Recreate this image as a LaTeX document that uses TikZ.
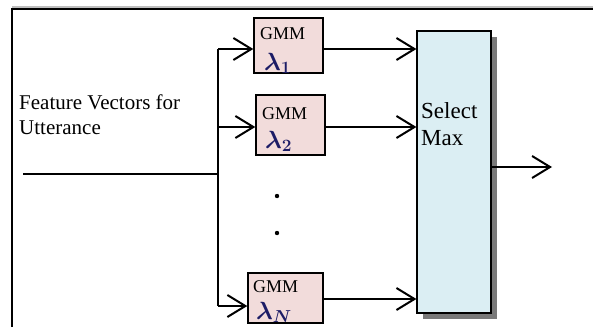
\documentclass[tikz,border=0pt]{standalone}
\usepackage{amsmath}
\usepackage{fontspec}
\setmainfont{Liberation Serif}
\usetikzlibrary{arrows.meta,shadows}
\definecolor{gmmfill}{HTML}{F2DCDB}
\definecolor{selfill}{HTML}{DBEEF3}
\definecolor{lamcol}{HTML}{1C1C66}
\tikzset{
  gmmbox/.style={draw=black,line width=1.4pt,fill=gmmfill,inner sep=0pt},
  selbox/.style={draw=black,line width=1.2pt,fill=selfill,inner sep=0pt,
    drop shadow={shadow xshift=6pt,shadow yshift=-6pt,fill=gray!95!black,opacity=1}},
  wire/.style={line width=2pt},
  arr/.style={line width=2pt,-{Straight Barb[length=18pt,width=22pt]}},
  gmmtext/.style={anchor=base west,inner sep=0pt,font=\fontsize{18}{20}\selectfont},
  lamtext/.style={anchor=base west,inner sep=0pt,text=lamcol,font=\fontsize{24}{26}\selectfont},
  lbl/.style={anchor=base west,inner sep=0pt,font=\fontsize{21}{25}\selectfont},
  sellbl/.style={anchor=base west,inner sep=0pt,font=\fontsize{23}{27}\selectfont},
}
\newcommand{\lamsub}[1]{$\boldsymbol{\lambda}_{\boldsymbol{#1}}$}
\begin{document}
\begin{tikzpicture}[x=1pt,y=-1pt]
\useasboundingbox (0,0) rectangle (593,327);
% frame
\draw[line width=2pt,gray!50] (12,7) -- (593,7);
\draw[line width=2pt] (12,327) -- (12,9) -- (593,9);
% boxes
\node[gmmbox,minimum width=69pt,minimum height=55pt] (b1) at (288.5,45.5) {};
\node[gmmbox,minimum width=69pt,minimum height=60pt] (b2) at (290.5,125) {};
\node[gmmbox,minimum width=75pt,minimum height=50pt] (bN) at (285.5,298) {};
\node[selbox,minimum width=74pt,minimum height=282pt] (sel) at (454,172) {};
% texts
\node[gmmtext] (t1) at (260,39) {GMM};
\node[lamtext] (l1) at (264,70) {\lamsub{1}};
\node[gmmtext] (t2) at (262,119) {GMM};
\node[lamtext] (l2) at (265,148) {\lamsub{2}};
\node[gmmtext] (tN) at (253,292) {GMM};
\node[lamtext] (lN) at (256,319) {\lamsub{N}};
\node[lbl] (f1) at (19,109) {Feature Vectors for};
\node[lbl] (f2) at (19,134) {Utterance};
\node[sellbl] (s1) at (421,118) {Select};
\node[sellbl] (s2) at (421,145) {Max};
% dots
\fill (277,196) circle (2.2pt) coordinate (d1);
\fill (277,233) circle (2.2pt) coordinate (d2);
% wiring
\coordinate (in) at (23,174);
\coordinate (j) at (218,174);
\coordinate (bt) at (218,49);
\coordinate (bm) at (218,127);
\coordinate (bb) at (218,306);
\draw[wire] (in) -- (j);
\draw[wire] (bt) -- (bb);
\draw[arr] (bt) -- (bt -| b1.west);
\draw[arr] (bm) -- (bm -| b2.west);
\draw[arr] (bb) -- (bb -| bN.west);
\coordinate (o1) at (322,49);
\coordinate (o2) at (325,127);
\coordinate (oN) at (323,299);
\draw[arr] (o1) -- (o1 -| sel.west);
\draw[arr] (o2) -- (o2 -| sel.west);
\draw[arr] (oN) -- (oN -| sel.west);
\coordinate (out) at (552,167);
\draw[arr] (sel.east |- out) -- (out);
\end{tikzpicture}
\end{document}
